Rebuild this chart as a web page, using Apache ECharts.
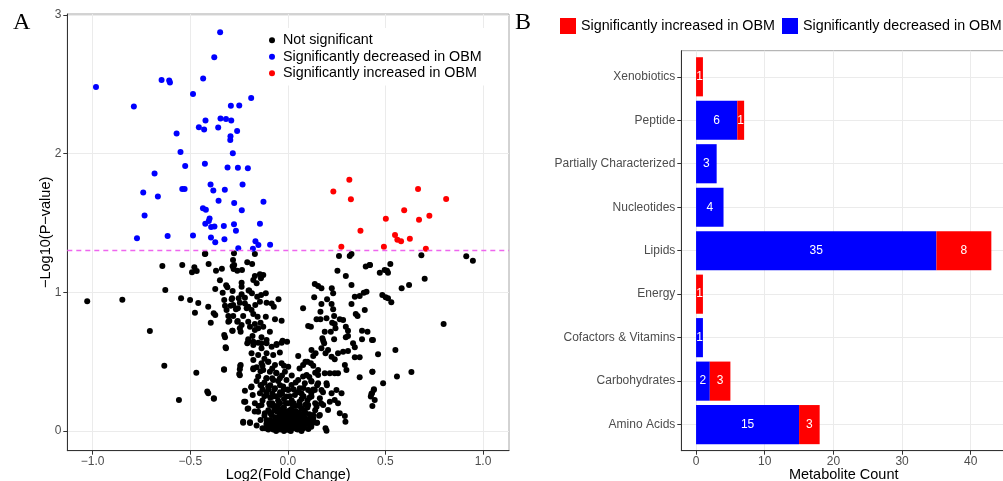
<!DOCTYPE html>
<html>
<head>
<meta charset="utf-8">
<script src="https://cdn.jsdelivr.net/npm/echarts@6/dist/echarts.min.js"></script>
<style>html,body{margin:0;padding:0;background:#fff;overflow:hidden}#c{width:1003px;height:481px}</style>
</head>
<body>
<div id="c"></div>
<script>
// ---------- Panel A data (log2 fold change, -log10 p) ----------
const notSignificant = [
[-1.028,0.935],[-0.848,0.947],[-0.707,0.721],[-0.633,0.471],[-0.558,0.224],[-0.628,1.017],[-0.643,1.19],[-0.541,1.197],[-0.479,1.18],[-0.491,1.144],[-0.467,1.154],[-0.423,1.278],[-0.406,1.204],[-0.368,1.156],[-0.338,1.17],[-0.281,1.233],[-0.283,1.187],[-0.278,1.168],[-0.235,1.161],[-0.208,1.216],[-0.183,1.204],[-0.372,1.024],[-0.348,1.087],[-0.316,1.05],[-0.334,0.997],[-0.283,1.009],[-0.237,1.069],[-0.237,1.04],[-0.201,1.012],[-0.237,0.985],[-0.547,0.957],[-0.501,0.944],[-0.459,0.923],[-0.476,0.853],[-0.408,0.896],[-0.395,0.781],[-0.38,0.848],[-0.326,0.944],[-0.322,0.903],[-0.286,0.957],[-0.293,0.903],[-0.256,0.885],[-0.22,0.961],[-0.203,0.896],[-0.305,0.829],[-0.305,0.788],[-0.28,0.829],[-0.257,0.793],[-0.283,0.723],[-0.246,0.74],[-0.326,0.692],[-0.317,0.596],[-0.327,0.442],[-0.469,0.42],[-0.408,0.272],[-0.379,0.233],[-0.244,0.469],[-0.246,0.401],[-0.229,0.06],[-0.194,0.058],[-0.218,0.211],[-0.206,0.161],[-0.188,0.315],[-0.177,0.445],[-0.184,0.993],
[-0.425,1.276],[-0.276,1.281],[-0.169,1.276],[-0.275,1.197],[-0.259,1.156],
[-0.177,1.089],[-0.16,1.065],[-0.169,1.118],[-0.138,1.101],[-0.126,1.125],[-0.143,1.13],[-0.198,1.012],[-0.157,0.968],[-0.137,0.981],[-0.113,0.993],[-0.143,0.932],[-0.109,0.925],[-0.083,0.92],[-0.048,0.95],[-0.072,0.896],[-0.22,0.92],[-0.211,0.885],[-0.186,0.872],[-0.167,0.908],[-0.177,0.843],[-0.155,0.824],[-0.113,0.824],[-0.066,0.805],[-0.032,0.795],[-0.203,0.788],[-0.169,0.771],[-0.14,0.781],[-0.194,0.752],[-0.152,0.74],[-0.126,0.752],[-0.169,0.728],[-0.092,0.716],[-0.203,0.661],[-0.181,0.685],[-0.135,0.676],[-0.177,0.644],[-0.109,0.656],[-0.058,0.627],[-0.027,0.651],[-0.004,0.644],[-0.208,0.632],[-0.135,0.632],
[-0.288,0.95],[-0.252,0.957],[-0.28,0.908],[-0.246,0.925],[-0.314,0.872],[-0.266,0.877],[-0.372,0.836],[-0.229,0.829],[-0.3,0.795],[-0.259,0.788],[-0.237,0.764],[-0.285,0.723],[-0.242,0.716],[-0.322,0.676],[-0.31,1.036],
[-0.319,0.603],[-0.327,0.445],[-0.242,0.476],[-0.246,0.445],[-0.249,0.411],[-0.413,0.284],[-0.379,0.236],[-0.177,0.452],[-0.22,0.291],[-0.186,0.32],[-0.224,0.211],[-0.203,0.163],[-0.229,0.067],[-0.194,0.063],
[-0.203,0.644],[-0.177,0.62],[-0.152,0.637],[-0.135,0.596],[-0.109,0.632],[-0.083,0.608],[-0.058,0.62],[-0.032,0.637],[-0.186,0.56],[-0.152,0.548],[-0.109,0.56],[-0.075,0.548],[-0.041,0.565],[-0.177,0.512],[-0.135,0.488],[-0.101,0.5],[-0.066,0.476],[-0.032,0.488],[-0.126,0.44],[-0.092,0.428],[-0.058,0.416],[-0.015,0.428],[-0.152,0.392],[-0.109,0.38],[-0.075,0.368],[-0.041,0.38],[-0.007,0.368],[-0.135,0.332],[-0.101,0.32],[-0.066,0.308],[-0.024,0.32],[-0.143,0.272],[-0.109,0.26],[-0.075,0.248],[-0.041,0.26],[-0.007,0.248],[-0.169,0.2],[-0.135,0.188],[-0.092,0.188],[-0.058,0.175],[-0.024,0.163],[-0.152,0.139],[-0.118,0.128],[-0.083,0.115],[-0.041,0.115],[-0.007,0.103],[-0.109,0.079],[-0.066,0.067],[-0.032,0.055],[-0.05,0.019],[-0.015,0.007],[0.002,0.031],
[0.262,1.262],[0.317,1.262],[0.326,1.276],[0.254,1.156],[0.297,1.118],[0.399,1.185],[0.421,1.197],[0.138,1.06],[0.155,1.045],[0.172,1.029],[0.225,1.029],[0.232,0.993],[0.326,1.053],[0.135,0.964],[0.201,0.95],[0.172,0.916],[0.224,0.916],[0.343,0.968],[0.368,0.973],[0.389,0.997],[0.403,1.004],[0.326,0.916],[0.078,0.885],[0.232,0.877],[0.167,0.86],[0.394,0.872],[0.348,0.843],[0.357,0.829],[0.237,0.829],[0.147,0.805],[0.167,0.805],[0.198,0.813],[0.266,0.805],[0.283,0.8],[0.227,0.781],[0.24,0.771],[0.104,0.757],[0.118,0.752],[0.297,0.752],[0.244,0.74],[0.22,0.716],[0.308,0.723],[0.189,0.716],[0.38,0.723],[0.408,0.716],[0.308,0.685],[0.297,0.676],[0.177,0.668],[0.181,0.651],[0.237,0.661],[0.38,0.661],[0.431,0.656],[0.334,0.632],
[0.053,0.541],[0.078,0.476],[0.09,0.5],[0.118,0.488],[0.13,0.541],[0.142,0.56],[0.121,0.584],[0.172,0.596],[0.186,0.632],[0.193,0.56],[0.206,0.584],[0.224,0.536],[0.24,0.517],[0.257,0.56],[0.283,0.572],[0.308,0.577],[0.343,0.603],[0.343,0.531],[0.368,0.531],[0.292,0.476],[0.3,0.44],[0.257,0.416],[0.24,0.416],[0.189,0.416],[0.215,0.416],[0.368,0.387],[0.433,0.428],[0.155,0.44],[0.155,0.404],[0.096,0.404],[0.078,0.392],[0.002,0.464],[0.198,0.344],[0.249,0.296],[0.275,0.272],[0.224,0.272],[0.24,0.224],[0.215,0.211],[0.257,0.2],[0.206,0.151],[0.266,0.128],[0.292,0.108],[0.295,0.067],[0.193,0.019],[0.198,0.002],[0.431,0.272],[0.425,0.248],[0.441,0.301],[0.019,0.332],[0.002,0.296],
[0.053,0.368],[0.087,0.344],[0.121,0.356],[0.155,0.344],[0.061,0.308],[0.104,0.296],[0.138,0.296],[0.172,0.296],[0.036,0.26],[0.078,0.248],[0.121,0.248],[0.164,0.236],[0.019,0.2],[0.061,0.188],[0.104,0.188],[0.147,0.175],[0.181,0.188],[0.002,0.139],[0.044,0.139],[0.087,0.128],[0.13,0.115],[0.164,0.115],[0.019,0.079],[0.061,0.079],[0.104,0.067],[0.147,0.06],[0.036,0.027],[0.078,0.027],[-0.007,0.031],[0.01,0.007],
[0.419,1.197],[0.684,1.267],[0.914,1.26],[0.948,1.228],[0.471,1.141],[0.496,1.161],[0.513,1.141],[0.525,1.204],[0.508,1.156],[0.701,1.098],[0.583,1.029],[0.621,1.053],[0.484,0.981],[0.501,0.964],[0.513,0.957],[0.53,0.928],[0.798,0.771],[0.436,0.656],[0.462,0.553],[0.551,0.584],[0.433,0.428],[0.559,0.392],[0.633,0.425],[0.488,0.344],[0.44,0.296],[0.428,0.267],[0.445,0.224],[0.433,0.18],
[-0.16,0.04],[-0.14,0.08],[-0.13,0.02],[-0.12,0.11],[-0.11,0.05],[-0.1,0.15],[-0.1,0.01],[-0.09,0.08],[-0.085,0.12],[-0.08,0.03],[-0.075,0.18],[-0.07,0.06],[-0.065,0.1],[-0.06,0.02],[-0.055,0.14],[-0.05,0.05],[-0.045,0.09],[-0.04,0.01],[-0.035,0.12],[-0.03,0.04],[-0.025,0.08],[-0.02,0.17],[-0.018,0.02],[-0.012,0.11],[-0.008,0.06],[-0.004,0.14],[0,0.03],[0.004,0.09],[0.008,0.005],[0.012,0.12],[0.016,0.05],[0.02,0.16],[0.024,0.02],[0.028,0.08],[0.032,0.11],[0.036,0.04],[0.04,0.14],[0.045,0.07],[0.05,0.01],[0.055,0.1],[0.06,0.18],[0.065,0.04],[0.07,0.12],[0.075,0.07],[0.08,0.02],[0.085,0.15],[0.09,0.09],[0.1,0.05],[0.11,0.12],[0.12,0.03],[0.13,0.09],[0.14,0.15],[0.15,0.06],
[-0.15,0.18],[-0.13,0.22],[-0.11,0.28],[-0.09,0.24],[-0.07,0.3],[-0.05,0.22],[-0.03,0.27],[-0.01,0.2],[0.01,0.25],[0.03,0.2],[0.05,0.28],[0.07,0.23],[0.09,0.19],[0.11,0.24],[0.13,0.3],[-0.12,0.35],[-0.08,0.38],[-0.04,0.33],[0,0.3],[0.04,0.35],[0.08,0.31],[0.12,0.36],[-0.02,0],[0.015,0],[0.045,0.015],[-0.06,0],[0.07,0],[-0.03,0.06],[0.025,0.035],[-0.015,0.085],[0.035,0.065],[0.058,0.13],[-0.045,0.16],[-0.095,0.2],[0.1,0.17],[0.16,0.11],[0.17,0.2],[-0.17,0.14],[-0.18,0.26],[0.18,0.28],[0.2,0.33],[-0.14,0.43],[-0.1,0.5],[-0.06,0.42],[-0.02,0.47],[0.02,0.4],[0.06,0.45],[0.1,0.5],[0.14,0.42],
[-0.115,0.02],[-0.095,0.04],[-0.075,0.01],[-0.055,0.035],[-0.035,0.02],[-0.015,0.04],[0.005,0.015],[0.025,0.055],[0.045,0.04],[0.065,0.02],[0.085,0.045],[0.105,0.015],[0.125,0.055],[-0.105,0.07],[-0.085,0.055],[-0.065,0.08],[-0.045,0.065],[-0.025,0.1],[-0.005,0.075],[0.015,0.095],[0.035,0.09],[0.055,0.06],[0.075,0.095],[0.095,0.07],[0.115,0.09],[-0.09,0.13],[-0.07,0.15],[-0.05,0.1],[-0.03,0.14],[-0.01,0.13],[0.01,0.15],[0.03,0.14],[0.05,0.12],[0.07,0.16],[0.09,0.13],[-0.08,0.2],[-0.06,0.18],[-0.04,0.2],[-0.02,0.23],[0,0.2],[0.02,0.22],[0.04,0.18],[0.06,0.21],[0.08,0.25],[-0.12,0.25],[-0.1,0.3],[-0.08,0.27],[-0.06,0.25],[-0.04,0.28],[-0.02,0.3],[-0.13,0.3],[-0.11,0.38],[-0.09,0.33],[-0.05,0.36],[-0.03,0.4],[-0.13,0.47],[-0.16,0.36],[-0.14,0.33],[-0.16,0.46],[-0.08,0.45],[-0.12,0.52],[0.03,0.3],[0.07,0.27],[0.1,0.22],[0.12,0.27],[0.14,0.2],[0.15,0.33],[0.11,0.39],[0.13,0.47]
];
const decreased = [
[-0.347,2.874],[-0.377,2.694],[-0.983,2.48],[-0.647,2.531],[-0.608,2.527],[-0.604,2.512],[-0.434,2.541],[-0.486,2.43],[-0.188,2.401],[-0.789,2.339],[-0.292,2.344],[-0.249,2.347],[-0.422,2.238],[-0.345,2.252],[-0.317,2.249],[-0.29,2.238],[-0.456,2.19],[-0.429,2.173],[-0.357,2.187],[-0.26,2.163],[-0.57,2.144],[-0.294,2.125],[-0.295,2.098],[-0.55,2.012],[-0.282,2.003],[-0.526,1.911],[-0.425,1.926],[-0.309,1.9],[-0.256,1.897],[-0.205,1.894],[-0.683,1.857],[-0.396,1.777],[-0.232,1.777],[-0.741,1.72],[-0.541,1.744],[-0.529,1.744],[-0.382,1.734],[-0.323,1.739],[-0.666,1.691],[-0.355,1.659],[-0.275,1.643],[-0.125,1.652],[-0.435,1.605],[-0.42,1.595],[-0.236,1.592],[-0.734,1.554],[-0.401,1.532],[-0.405,1.513],[-0.423,1.494],[-0.276,1.491],[-0.143,1.494],[-0.376,1.475],[-0.393,1.47],[-0.328,1.477],[-0.266,1.443],[-0.773,1.39],[-0.616,1.405],[-0.486,1.41],[-0.394,1.395],[-0.325,1.383],[-0.166,1.367],[-0.151,1.34],[-0.091,1.342],[-0.254,1.318],[-0.179,1.313],[-0.372,1.361]
];
const increased = [
[0.315,1.811],[0.233,1.727],[0.323,1.67],[0.667,1.744],[0.811,1.672],[0.596,1.592],[0.725,1.551],[0.502,1.53],[0.672,1.522],[0.372,1.443],[0.549,1.412],[0.561,1.378],[0.58,1.367],[0.625,1.385],[0.274,1.328],[0.492,1.328],[0.707,1.313]
];
const pThreshold = 1.301;           // -log10(0.05)
const xTicksA = [-1, -0.5, 0, 0.5, 1];
const yTicksA = [0, 1, 2, 3];

// ---------- Panel B data ----------
const categories = ['Amino Acids','Carbohydrates','Cofactors & Vitamins','Energy','Lipids','Nucleotides','Partially Characterized','Peptide','Xenobiotics'];
const decreasedCounts = [15, 2, 1, 0, 35, 4, 3, 6, 0];
const increasedCounts = [3, 3, 0, 1, 8, 0, 0, 1, 1];
const xTicksB = [0, 10, 20, 30, 40];
const catPositions = categories.map((c, i) => i + 1);

const FONT = 'Liberation Sans, Arial, sans-serif';
const decData = [], incData = [];
categories.forEach((c, i) => {
  const d = decreasedCounts[i], n = increasedCounts[i];
  if (d > 0) decData.push([catPositions[i], 0, d, d]);
  if (n > 0) incData.push([catPositions[i], d, d + n, n]);
});

function renderStackBar(params, api) {
  const y = api.value(0);
  const p0 = api.coord([api.value(1), y]);
  const p1 = api.coord([api.value(2), y]);
  const h = api.size([0, 0.9])[1];
  return {
    type: 'group',
    children: [
      { type: 'rect', shape: { x: p0[0], y: p0[1] - h / 2, width: p1[0] - p0[0], height: h },
        style: { fill: api.visual('color') } },
      { type: 'text', style: { text: String(api.value(3)), x: (p0[0] + p1[0]) / 2, y: p0[1],
        align: 'center', verticalAlign: 'middle', fill: '#ffffff', fontSize: 12, fontFamily: FONT } }
    ]
  };
}

const minus = v => (v < 0 ? '\u2212' : '') + Math.abs(v).toFixed(1);
const tickStyle = { lineStyle: { color: '#333333', width: 1 }, length: 4 };
const lblStyle = { color: '#4d4d4d', fontSize: 12, fontFamily: FONT };
const nameStyle = { fontSize: 14.5, fontFamily: FONT, color: '#000' };
const legendText = { fontSize: 14.3, fontFamily: FONT, color: '#000' };

const option = {
  animation: false,
  backgroundColor: '#ffffff',
  title: [
    { text: 'A', left: 8, top: 6, textStyle: { fontFamily: 'Liberation Serif, serif', fontSize: 24, fontWeight: 'normal', color: '#000' } },
    { text: 'B', left: 510, top: 6, textStyle: { fontFamily: 'Liberation Serif, serif', fontSize: 24, fontWeight: 'normal', color: '#000' } }
  ],
  grid: [
    { left: 67.3, top: 14, width: 441.7, height: 436.7, show: true, borderColor: '#a6a6a6', borderWidth: 1,
      containLabel: false, outerBoundsMode: 'none' },
    { left: 681.3, top: 50.7, width: 324.8, height: 400, show: true, borderColor: '#a6a6a6', borderWidth: 1,
      containLabel: false, outerBoundsMode: 'none' }
  ],
  legend: [
    { orient: 'vertical', left: 269, top: 28, itemWidth: 12, itemHeight: 6, itemGap: 0, icon: 'circle',
      backgroundColor: '#ffffff', padding: [4, 10, 4, 0], selectedMode: false,
      data: ['Not significant', 'Significantly decreased in OBM', 'Significantly increased in OBM'],
      textStyle: Object.assign({ lineHeight: 16.5 }, legendText) },
    { orient: 'horizontal', left: 560, top: 18, itemWidth: 16, itemHeight: 16, icon: 'rect',
      padding: 0, selectedMode: false,
      data: ['Significantly increased in OBM '], formatter: n => n.trim(), textStyle: legendText },
    { orient: 'horizontal', left: 782, top: 18, itemWidth: 16, itemHeight: 16, icon: 'rect',
      padding: 0, selectedMode: false,
      data: ['Significantly decreased in OBM '], formatter: n => n.trim(), textStyle: legendText }
  ],
  xAxis: [
    { gridIndex: 0, type: 'value', min: -1.13, max: 1.133, splitNumber: 4,
      axisLine: { show: true, onZero: false, lineStyle: { color: '#333333' } },
      axisTick: Object.assign({ show: true, customValues: xTicksA }, tickStyle),
      axisLabel: Object.assign({ customValues: xTicksA, formatter: minus, margin: 5 }, lblStyle),
      splitLine: { show: true, lineStyle: { color: '#ebebeb', width: 1 } },
      name: 'Log2(Fold Change)', nameLocation: 'middle', nameGap: 17, nameMoveOverlap: false, nameTextStyle: nameStyle },
    { gridIndex: 1, type: 'value', min: -2.15, max: 45.15, splitNumber: 10,
      axisLine: { show: true, onZero: false, lineStyle: { color: '#333333' } },
      axisTick: Object.assign({ show: true, customValues: xTicksB }, tickStyle),
      axisLabel: Object.assign({ customValues: xTicksB, margin: 5 }, lblStyle),
      splitLine: { show: true, lineStyle: { color: '#ebebeb', width: 1 } },
      name: 'Metabolite Count', nameLocation: 'middle', nameGap: 17, nameMoveOverlap: false, nameTextStyle: nameStyle }
  ],
  yAxis: [
    { gridIndex: 0, type: 'value', min: -0.142, max: 3.006, splitNumber: 3,
      axisLine: { show: true, onZero: false, lineStyle: { color: '#333333' } },
      axisTick: Object.assign({ show: true, customValues: yTicksA }, tickStyle),
      axisLabel: Object.assign({ customValues: yTicksA, margin: 6 }, lblStyle),
      splitLine: { show: true, lineStyle: { color: '#ebebeb', width: 1 } },
      name: '\u2212Log10(P\u2212value)', nameLocation: 'middle', nameGap: 14, nameMoveOverlap: false, nameTextStyle: nameStyle },
    { gridIndex: 1, type: 'value', min: 0.4, max: 9.6, splitNumber: 9,
      axisLine: { show: true, onZero: false, lineStyle: { color: '#333333' } },
      axisTick: Object.assign({ show: true, customValues: catPositions }, tickStyle),
      axisLabel: Object.assign({ customValues: catPositions, margin: 6,
        formatter: v => categories[Math.round(v) - 1] }, lblStyle),
      splitLine: { show: true, lineStyle: { color: '#ebebeb', width: 1 } } }
  ],
  series: [
    { name: 'Not significant', type: 'scatter', xAxisIndex: 0, yAxisIndex: 0, data: notSignificant,
      symbolSize: 6, itemStyle: { color: '#000000', opacity: 1 }, silent: true },
    { name: 'Significantly decreased in OBM', type: 'scatter', xAxisIndex: 0, yAxisIndex: 0, data: decreased,
      symbolSize: 6, itemStyle: { color: '#0000ff', opacity: 1 }, silent: true },
    { name: 'Significantly increased in OBM', type: 'scatter', xAxisIndex: 0, yAxisIndex: 0, data: increased,
      symbolSize: 6, itemStyle: { color: '#ff0000', opacity: 1 }, silent: true,
      markLine: { silent: true, symbol: 'none', label: { show: false },
        lineStyle: { color: '#ee66ee', type: [5, 4], width: 1.3 },
        data: [{ yAxis: pThreshold }] } },
    { name: 'Significantly decreased in OBM ', type: 'custom', xAxisIndex: 1, yAxisIndex: 1, data: decData,
      encode: { x: [1, 2], y: 0 }, renderItem: renderStackBar, clip: false, itemStyle: { color: '#0000ff' }, silent: true },
    { name: 'Significantly increased in OBM ', type: 'custom', xAxisIndex: 1, yAxisIndex: 1, data: incData,
      encode: { x: [1, 2], y: 0 }, renderItem: renderStackBar, clip: false, itemStyle: { color: '#ff0000' }, silent: true }
  ]
};

const chart = echarts.init(document.getElementById('c'), null, { renderer: 'canvas' });
chart.setOption(option);
</script>
</body>
</html>
